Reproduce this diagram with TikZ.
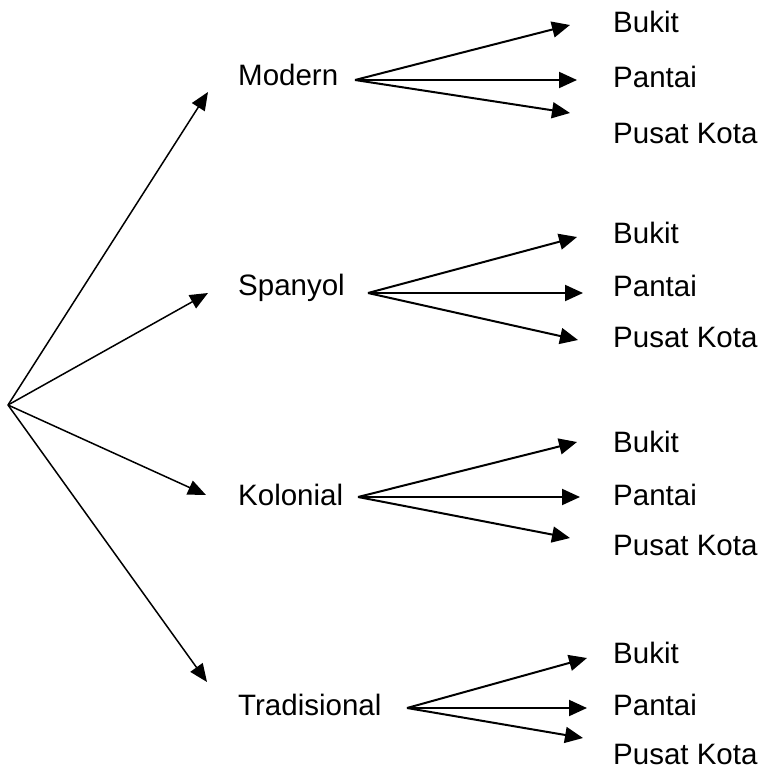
\documentclass[tikz,border=0pt]{standalone}
\usepackage{fontspec}
\setmainfont{Liberation Sans}
\usetikzlibrary{arrows.meta}
\begin{document}
\begin{tikzpicture}[x=1pt,y=-1pt,
  lbl/.style={anchor=base west,inner sep=0pt,font=\fontsize{29.5}{35}\selectfont},
  rootarrow/.style={line width=1.5pt,-{Triangle[length=18pt,width=15pt]}},
  subarrow/.style={line width=2pt,-{Triangle[length=18pt,width=16pt]}}]
\useasboundingbox (0,0) rectangle (762,768);
% root
\coordinate (root) at (8,405);
% group labels
\node[lbl] (modern) at (238,85) {Modern};
\node[lbl] (spanyol) at (238,295) {Spanyol};
\node[lbl] (kolonial) at (238,505) {Kolonial};
\node[lbl] (tradisional) at (238,715) {Tradisional};
% root arrow tips
\coordinate (tm) at (208,92);
\coordinate (ts) at (208,293);
\coordinate (tk) at (206,495);
\coordinate (tt) at (207,682);
\draw[rootarrow] (root) -- (tm);
\draw[rootarrow] (root) -- (ts);
\draw[rootarrow] (root) -- (tk);
\draw[rootarrow] (root) -- (tt);
% group sources
\coordinate (sm) at (355,80);
\coordinate (ss) at (368,293);
\coordinate (sk) at (358,497);
\coordinate (st) at (407,708);
% Modern children
\node[lbl] (m1) at (613,33) {Bukit};
\node[lbl] (m2) at (613,88) {Pantai};
\node[lbl] (m3) at (613,143) {Pusat Kota};
\coordinate (m1t) at (570,25);
\coordinate (m2t) at (577,80);
\coordinate (m3t) at (570,113);
\draw[subarrow] (sm) -- (m1t);
\draw[subarrow] (sm) -- (m2t);
\draw[subarrow] (sm) -- (m3t);
% Spanyol children
\node[lbl] (s1) at (613,243) {Bukit};
\node[lbl] (s2) at (613,296) {Pantai};
\node[lbl] (s3) at (613,347) {Pusat Kota};
\coordinate (s1t) at (577,237);
\coordinate (s2t) at (583,293);
\coordinate (s3t) at (578,340);
\draw[subarrow] (ss) -- (s1t);
\draw[subarrow] (ss) -- (s2t);
\draw[subarrow] (ss) -- (s3t);
% Kolonial children
\node[lbl] (k1) at (613,452) {Bukit};
\node[lbl] (k2) at (613,505) {Pantai};
\node[lbl] (k3) at (613,555) {Pusat Kota};
\coordinate (k1t) at (577,442);
\coordinate (k2t) at (580,497);
\coordinate (k3t) at (570,538);
\draw[subarrow] (sk) -- (k1t);
\draw[subarrow] (sk) -- (k2t);
\draw[subarrow] (sk) -- (k3t);
% Tradisional children
\node[lbl] (t1) at (613,663) {Bukit};
\node[lbl] (t2) at (613,715) {Pantai};
\node[lbl] (t3) at (613,764) {Pusat Kota};
\coordinate (t1t) at (587,658);
\coordinate (t2t) at (587,708);
\coordinate (t3t) at (583,738);
\draw[subarrow] (st) -- (t1t);
\draw[subarrow] (st) -- (t2t);
\draw[subarrow] (st) -- (t3t);
\end{tikzpicture}
\end{document}
